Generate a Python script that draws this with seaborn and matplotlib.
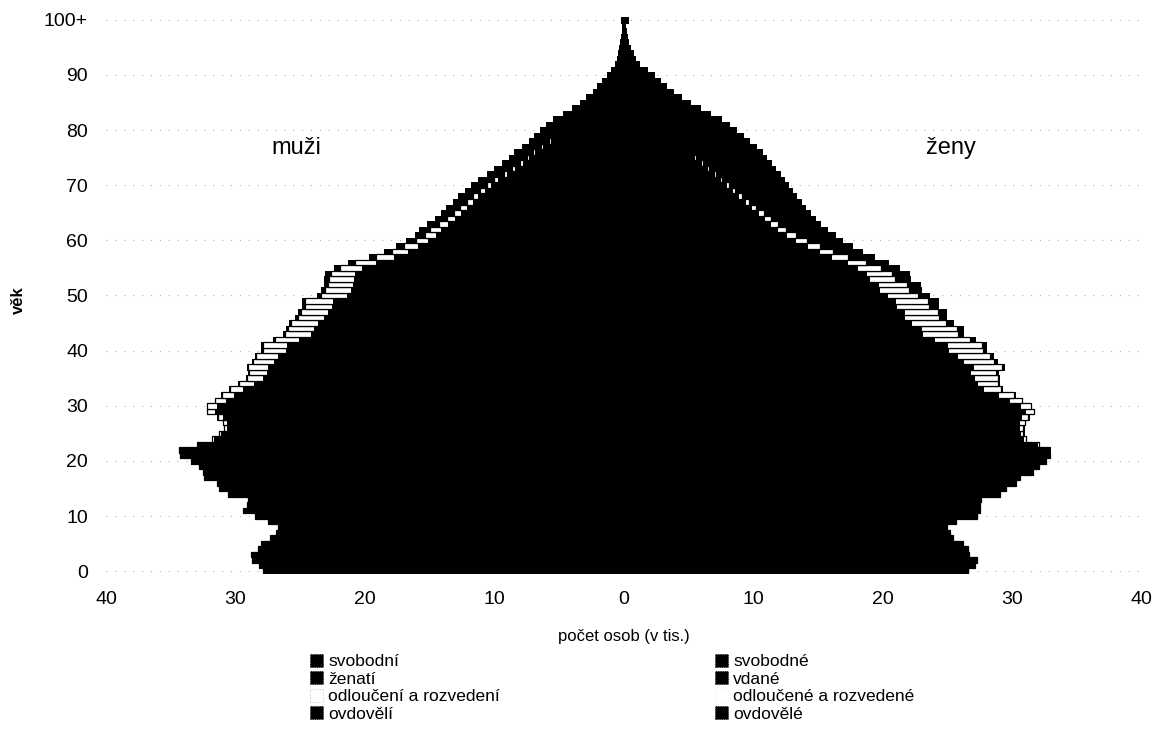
import numpy as np
import pandas as pd
import matplotlib.pyplot as plt
import seaborn as sns
from matplotlib.patches import Patch

# age groups 0 .. 100+ and axis labels
ages = list(range(101))
age_ticks = [0, 10, 20, 30, 40, 50, 60, 70, 80, 90, 100]
age_tick_labels = ["0", "10", "20", "30", "40", "50", "60", "70", "80", "90", "100+"]
count_ticks = [-40, -30, -20, -10, 0, 10, 20, 30, 40]
count_tick_labels = ["40", "30", "20", "10", "0", "10", "20", "30", "40"]

# men, thousands
men_total = [27.9, 28.2, 28.7, 28.8, 28.3, 28.0, 27.3, 26.9, 26.7, 27.5,
             28.5, 29.4, 29.1, 29.0, 30.6, 31.3, 31.4, 32.4, 32.5, 32.8,
             33.4, 34.3, 34.4, 33.0, 31.8, 31.3, 30.9, 31.0, 31.4, 32.2,
             32.2, 31.6, 31.1, 30.5, 29.8, 29.2, 29.0, 29.1, 28.7, 28.5,
             28.0, 28.0, 27.1, 26.3, 26.1, 25.9, 25.4, 25.2, 24.9, 24.9,
             23.7, 23.4, 23.2, 23.2, 23.1, 22.4, 21.3, 19.7, 18.5, 17.6,
             16.8, 16.1, 15.8, 15.2, 14.6, 14.1, 13.7, 13.2, 12.8, 12.3,
             11.8, 11.3, 10.6, 10.0, 9.4, 8.9, 8.5, 7.9, 7.3, 6.9,
             6.5, 6.0, 5.5, 4.7, 4.0, 3.4, 2.9, 2.4, 2.1, 1.7,
             1.3, 0.95, 0.7, 0.55, 0.45, 0.35, 0.28, 0.2, 0.15, 0.1,
             0.25]
men_married = [0] * 18 + [
             0.1, 0.3,
             0.7, 1.3, 2.2, 3.2, 4.3, 5.5, 6.8, 8.2, 9.8, 11.5,
             12.8, 13.6, 14.5, 15.2, 15.7, 16.2, 16.6, 17.0, 17.1, 17.3,
             17.2, 17.4, 17.1, 16.8, 16.8, 16.8, 16.6, 16.6, 16.5, 16.6,
             16.0, 15.9, 15.9, 16.0, 16.1, 15.8, 15.3, 14.2, 13.6, 13.1,
             12.7, 12.3, 12.1, 11.7, 11.3, 10.9, 10.6, 10.2, 9.9, 9.5,
             9.1, 8.7, 8.1, 7.6, 7.1, 6.7, 6.3, 5.8, 5.3, 4.9,
             4.5, 4.1, 3.7, 3.1, 2.6, 2.1, 1.7, 1.4, 1.2, 0.9,
             0.7, 0.5, 0.35, 0.27, 0.2, 0.15, 0.12, 0.08, 0.06, 0.04,
             0.1]
men_divorced = [0] * 20 + [
             0.02, 0.03, 0.05, 0.08, 0.12, 0.18, 0.25, 0.35, 0.45, 0.6,
             0.75, 0.85, 0.95, 1.05, 1.15, 1.3, 1.4, 1.5, 1.6, 1.7,
             1.8, 1.85, 1.9, 1.95, 2.0, 2.05, 2.05, 2.1, 2.1, 2.1,
             2.0, 2.0, 1.9, 1.9, 1.85, 1.7, 1.6, 1.4, 1.2, 1.05,
             0.95, 0.85, 0.8, 0.7, 0.6, 0.55, 0.5, 0.45, 0.4, 0.35,
             0.3, 0.27, 0.24, 0.2, 0.18, 0.16, 0.14, 0.12, 0.1, 0.09,
             0.08, 0.07, 0.06, 0.05, 0.04, 0.03, 0.02, 0.02, 0.01, 0.01,
             0.01, 0.01, 0, 0, 0, 0, 0, 0, 0, 0,
             0]
men_widowed = [0] * 25 + [
             0.01, 0.01, 0.01, 0.02, 0.02,
             0.03, 0.03, 0.04, 0.05, 0.05, 0.06, 0.07, 0.08, 0.09, 0.1,
             0.11, 0.13, 0.14, 0.16, 0.18, 0.2, 0.22, 0.25, 0.27, 0.3,
             0.32, 0.35, 0.38, 0.42, 0.45, 0.48, 0.52, 0.55, 0.6, 0.65,
             0.72, 0.78, 0.85, 0.9, 0.95, 1.0, 1.05, 1.1, 1.15, 1.2,
             1.25, 1.3, 1.35, 1.4, 1.42, 1.45, 1.5, 1.52, 1.55, 1.58,
             1.6, 1.55, 1.5, 1.35, 1.2, 1.05, 0.95, 0.8, 0.72, 0.6,
             0.48, 0.36, 0.28, 0.23, 0.2, 0.16, 0.13, 0.1, 0.07, 0.05,
             0.12]

# women, thousands
women_total = [26.6, 27.1, 27.3, 26.7, 26.6, 26.2, 25.4, 25.2, 25.0, 25.7,
               27.3, 27.5, 27.5, 27.6, 29.1, 29.5, 30.3, 30.6, 31.6, 32.1,
               32.6, 32.9, 32.9, 32.1, 31.1, 30.9, 30.9, 31.0, 31.3, 31.7,
               31.5, 30.8, 30.2, 29.2, 29.0, 29.0, 28.9, 29.4, 28.8, 28.5,
               28.0, 28.0, 27.1, 26.2, 26.2, 25.4, 24.9, 24.9, 24.3, 24.3,
               23.6, 23.0, 22.9, 22.1, 22.0, 21.3, 20.4, 19.3, 18.4, 17.6,
               16.9, 16.3, 15.7, 15.2, 14.8, 14.4, 14.0, 13.7, 13.3, 13.0,
               12.7, 12.4, 12.1, 11.7, 11.4, 11.0, 10.7, 10.2, 9.7, 9.2,
               8.7, 8.1, 7.5, 6.7, 5.9, 5.1, 4.4, 3.8, 3.3, 2.8,
               2.3, 1.8, 1.2, 0.9, 0.7, 0.5, 0.35, 0.25, 0.18, 0.12,
               0.3]
women_married = [0] * 16 + [
               0.02, 0.1, 0.4, 1.0,
               1.9, 3.0, 4.3, 5.8, 7.3, 8.8, 10.3, 11.8, 13.3, 14.8,
               16.1, 17.0, 17.6, 17.8, 18.4, 18.8, 19.1, 19.7, 19.4, 19.3,
               19.0, 19.0, 18.4, 17.8, 17.8, 17.2, 16.8, 16.8, 16.4, 16.3,
               15.6, 15.3, 15.2, 14.6, 14.5, 14.0, 13.4, 12.5, 12.0, 11.4,
               10.8, 10.1, 9.5, 9.1, 8.6, 8.2, 7.8, 7.4, 6.9, 6.5,
               6.0, 5.6, 5.2, 4.7, 4.3, 3.9, 3.5, 3.1, 2.7, 2.3,
               2.0, 1.6, 1.3, 1.0, 0.75, 0.55, 0.4, 0.3, 0.22, 0.16,
               0.11, 0.07, 0.05, 0.04, 0.03, 0.02, 0.01, 0.01, 0.01, 0.0,
               0.01]
women_divorced = [0] * 18 + [
               0.01, 0.02,
               0.05, 0.08, 0.12, 0.17, 0.23, 0.3, 0.38, 0.45, 0.55, 0.65,
               0.8, 1.0, 1.2, 1.35, 1.6, 1.85, 2.05, 2.25, 2.4, 2.55,
               2.65, 2.7, 2.75, 2.75, 2.75, 2.7, 2.7, 2.65, 2.6, 2.6,
               2.4, 2.3, 2.2, 2.0, 1.95, 1.85, 1.5, 1.35, 1.1, 1.0,
               0.9, 0.8, 0.7, 0.6, 0.52, 0.45, 0.4, 0.33, 0.28, 0.22,
               0.2, 0.17, 0.15, 0.14, 0.12, 0.1, 0.09, 0.08, 0.07, 0.06,
               0.05, 0.05, 0.04, 0.03, 0.03, 0.02, 0.02, 0.01, 0.01, 0.01,
               0.01, 0, 0, 0, 0, 0, 0, 0, 0, 0,
               0]
women_widowed = [0] * 22 + [
               0.01, 0.01, 0.01, 0.02, 0.02, 0.03, 0.03, 0.04,
               0.05, 0.06, 0.07, 0.08, 0.09, 0.1, 0.13, 0.16, 0.19, 0.23,
               0.27, 0.31, 0.35, 0.4, 0.45, 0.5, 0.56, 0.63, 0.7, 0.78,
               0.86, 0.95, 1.05, 1.15, 1.3, 1.45, 1.65, 1.95, 2.2, 2.45,
               2.75, 3.0, 3.15, 3.3, 3.45, 3.6, 3.8, 4.0, 4.2, 4.4,
               4.6, 4.8, 5.0, 5.15, 5.3, 5.45, 5.55, 5.55, 5.5, 5.45,
               5.4, 5.2, 5.0, 4.6, 4.2, 3.7, 3.3, 2.9, 2.55, 2.2,
               1.8, 1.45, 0.95, 0.72, 0.56, 0.4, 0.28, 0.2, 0.14, 0.09,
               0.22]

men_labels = ["svobodní", "ženatí", "odloučení a rozvedení", "ovdovělí"]
women_labels = ["svobodné", "vdané", "odloučené a rozvedené", "ovdovělé"]
status_colors = ["#000000", "#000000", "#ffffff", "#000000"]


def draw_side(ax, total, married, divorced, widowed, sign):
    total = np.array(total, dtype=float)
    married = np.array(married, dtype=float)
    divorced = np.array(divorced, dtype=float)
    widowed = np.array(widowed, dtype=float)
    single = total - married - divorced - widowed

    # stacked bars drawn as overlapping cumulative layers, outermost first
    layers = [
        (single + married + divorced + widowed, status_colors[3], 0.6),
        (single + married + divorced, status_colors[2], 0.9),
        (single + married, status_colors[1], 0.6),
        (single, status_colors[0], 0.6),
    ]
    for values, color, lw in layers:
        df = pd.DataFrame({"age": ages, "count": sign * values})
        # black layers without antialiasing so no light seams show between ages
        sns.barplot(data=df, x="count", y="age", orient="h", native_scale=True,
                    color=color, saturation=1, width=1, errorbar=None,
                    linewidth=lw, edgecolor="#000000",
                    antialiased=(color == "#ffffff"), ax=ax)


sns.set_style("white")
plt.rcParams["font.family"] = ["Liberation Sans", "DejaVu Sans"]
plt.rcParams["text.color"] = "black"
plt.rcParams["xtick.color"] = "black"
plt.rcParams["ytick.color"] = "black"

fig = plt.figure(figsize=(11.53, 7.46), dpi=100)
ax = fig.add_axes([0.092, 0.2306, 0.898, 0.7466])

draw_side(ax, men_total, men_married, men_divorced, men_widowed, -1)
draw_side(ax, women_total, women_married, women_divorced, women_widowed, 1)

ax.set_xlim(-40, 40)
ax.set_ylim(-0.5, 100.5)
ax.set_xticks(count_ticks)
ax.set_xticklabels(count_tick_labels, fontsize=14)
ax.set_yticks(age_ticks)
ax.set_yticklabels(age_tick_labels, fontsize=14)
ax.tick_params(axis="y", length=0, pad=13)
ax.tick_params(axis="x", length=0, pad=12)
ax.set_xlabel("")
ax.set_ylabel("")
for spine in ax.spines.values():
    spine.set_visible(False)

ax.set_axisbelow(True)
ax.yaxis.grid(True, linestyle=(0, (1, 7)), color="#b0b0b0", linewidth=0.8)
ax.xaxis.grid(False)

ax.text(-25.3, 76.8, "muži", fontsize=17, ha="center", va="center")
ax.text(25.3, 76.8, "ženy", fontsize=17, ha="center", va="center")

fig.text(18 / 1153, 1 - 300 / 746, "věk", rotation=90, ha="center", va="center",
         fontsize=12, fontweight="bold")
fig.text(624 / 1153, 1 - 636 / 746, "počet osob (v tis.)", ha="center", va="center",
         fontsize=12)

men_handles = [Patch(facecolor=c, edgecolor="#bbbbbb" if c == "#ffffff" else c,
                     linewidth=0.6, linestyle=":") for c in status_colors]
women_handles = [Patch(facecolor=c, edgecolor="#eeeeee" if c == "#ffffff" else c,
                       linewidth=0.6, linestyle=":") for c in status_colors]

leg_kw = dict(loc="upper left", frameon=False, fontsize=12.5, handlelength=0.75,
              handleheight=0.75, handletextpad=0.3, labelspacing=0.12,
              borderpad=0, borderaxespad=0)
fig.legend(men_handles, men_labels, bbox_to_anchor=(310 / 1153, 1 - 654 / 746), **leg_kw)
fig.legend(women_handles, women_labels, bbox_to_anchor=(715 / 1153, 1 - 654 / 746), **leg_kw)

fig.savefig("out.png", dpi=100, facecolor="white")
